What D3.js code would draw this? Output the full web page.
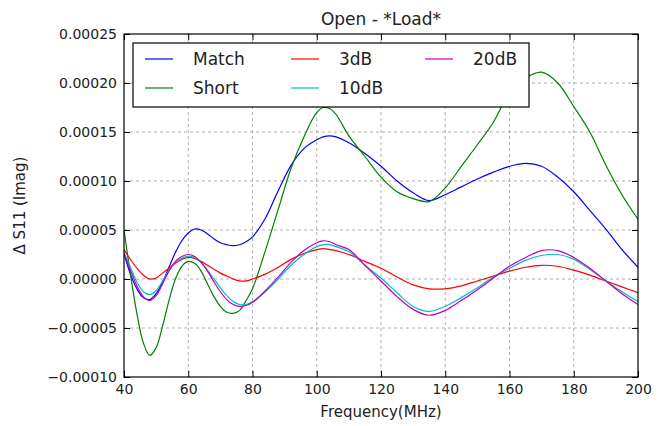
<!DOCTYPE html>
<html>
<head>
<meta charset="utf-8">
<script src="https://cdn.jsdelivr.net/npm/d3@7"></script>
<style>
  body { margin: 0; background: #fff; }
  svg { display: block; font-family: "DejaVu Sans", sans-serif; }
</style>
</head>
<body>
<svg id="chart"></svg>
<script>
// frequency points (MHz) shared by every series
const freq = [40, 42, 44, 46, 48, 50, 52, 54, 56, 58, 60, 62, 64, 66, 68, 70, 72, 74, 76, 78,
  80, 84, 88, 92, 96, 100, 102, 104, 106, 110, 115, 120, 125, 130, 135, 140, 145, 150, 155,
  160, 165, 170, 175, 180, 185, 190, 195, 200];

// values in units of 1e-5
const unit = 1e-5;
const match = [2.6, 0.5, -1.0, -1.9, -2.1, -1.5, -0.3, 1.2, 2.7, 3.9, 4.7, 5.1, 5.0, 4.6, 4.1, 3.7, 3.5, 3.4, 3.5, 3.8,
  4.3, 6.2, 9.0, 11.6, 13.3, 14.2, 14.5, 14.6, 14.5, 13.9, 12.8, 11.5, 10.0, 8.8, 8.0, 8.6, 9.4, 10.2, 10.9,
  11.5, 11.8, 11.5, 10.4, 8.9, 7.0, 5.1, 3.0, 1.2];
const short = [5.0, 0.5, -3.5, -6.5, -7.8, -7.0, -4.8, -2.2, 0.0, 1.3, 1.8, 1.6, 0.8, -0.5, -1.8, -2.8, -3.4, -3.5, -3.2, -2.2,
  -1.0, 2.9, 7.1, 11.3, 14.5, 17.0, 17.5, 17.4, 16.8, 14.6, 12.5, 10.4, 8.9, 8.2, 7.9, 9.3, 11.5, 13.7, 16.0,
  19.0, 20.5, 21.1, 20.0, 17.6, 15.0, 11.6, 8.6, 6.1];
const db3 = [3.0, 2.0, 1.1, 0.4, 0.0, 0.1, 0.6, 1.1, 1.6, 2.0, 2.2, 2.1, 1.8, 1.4, 1.0, 0.6, 0.3, 0.0, -0.2, -0.2,
  0.0, 0.5, 1.2, 2.0, 2.6, 3.0, 3.1, 3.0, 2.9, 2.5, 1.8, 1.1, 0.2, -0.6, -1.0, -1.0, -0.7, -0.2, 0.3,
  0.8, 1.2, 1.4, 1.3, 0.9, 0.4, -0.2, -0.8, -1.4];
const db10 = [2.7, 1.2, -0.3, -1.3, -1.6, -1.2, -0.2, 0.9, 1.7, 2.1, 2.3, 2.2, 1.7, 0.9, 0.0, -0.9, -1.7, -2.3, -2.6, -2.6,
  -2.3, -1.3, 0.0, 1.4, 2.5, 3.3, 3.5, 3.5, 3.3, 2.8, 1.4, 0.1, -1.4, -2.8, -3.3, -2.8, -1.9, -0.9, 0.2,
  1.1, 1.9, 2.4, 2.5, 2.0, 1.0, -0.2, -1.3, -2.3];
const db20 = [2.6, 0.9, -0.7, -1.8, -2.2, -1.7, -0.5, 0.8, 1.8, 2.3, 2.5, 2.3, 1.7, 0.8, -0.3, -1.3, -2.1, -2.6, -2.8, -2.7,
  -2.4, -1.2, 0.2, 1.7, 2.9, 3.7, 3.9, 3.8, 3.5, 3.0, 1.4, -0.2, -1.8, -3.1, -3.7, -3.2, -2.2, -1.1, 0.1,
  1.3, 2.2, 2.9, 2.9, 2.2, 1.1, -0.2, -1.5, -2.6];

const seriesNames = ['Match', 'Short', '3dB', '10dB', '20dB'];
const seriesValues = [match, short, db3, db10, db20];
const seriesColors = ['#0000ff', '#008000', '#ff0000', '#00bfbf', '#bf00bf'];

const xTicks = [40, 60, 80, 100, 120, 140, 160, 180, 200];
const yTicks = [-0.0001, -0.00005, 0, 0.00005, 0.0001, 0.00015, 0.0002, 0.00025];

const width = 661, height = 426;
const margin = { top: 34, right: 23, bottom: 49, left: 124 };
const innerW = width - margin.left - margin.right;
const innerH = height - margin.top - margin.bottom;

const svg = d3.select('#chart').attr('width', width).attr('height', height);

const x = d3.scaleLinear().domain([40, 200]).range([margin.left, margin.left + innerW]);
const y = d3.scaleLinear().domain([-0.0001, 0.00025]).range([margin.top + innerH, margin.top]);

svg.append('defs').append('clipPath').attr('id', 'clip')
  .append('rect')
  .attr('x', margin.left).attr('y', margin.top)
  .attr('width', innerW).attr('height', innerH);

// grid
const grid = svg.append('g').attr('stroke', '#9a9a9a').attr('stroke-width', 0.8).attr('stroke-dasharray', '3,3');
grid.selectAll('.gx').data(xTicks.slice(1, -1)).enter().append('line')
  .attr('x1', d => x(d)).attr('x2', d => x(d))
  .attr('y1', margin.top).attr('y2', margin.top + innerH);
grid.selectAll('.gy').data(yTicks.slice(1, -1)).enter().append('line')
  .attr('x1', margin.left).attr('x2', margin.left + innerW)
  .attr('y1', d => y(d)).attr('y2', d => y(d));

// lines
const line = d3.line()
  .x((d, i) => x(freq[i]))
  .y(d => y(d * unit))
  .curve(d3.curveCatmullRom.alpha(0.5));

const plot = svg.append('g').attr('clip-path', 'url(#clip)');
seriesValues.forEach((vals, k) => {
  plot.append('path')
    .datum(vals)
    .attr('d', line)
    .attr('fill', 'none')
    .attr('stroke', seriesColors[k])
    .attr('stroke-width', 1.2);
});

// axes with inward ticks
const fmtY = d3.format('.5f');
const xAxis = svg.append('g')
  .attr('transform', `translate(0,${margin.top + innerH})`)
  .call(d3.axisBottom(x).tickValues(xTicks).tickFormat(d3.format('d')).tickSize(-6).tickPadding(7));
const yAxis = svg.append('g')
  .attr('transform', `translate(${margin.left},0)`)
  .call(d3.axisLeft(y).tickValues(yTicks).tickFormat(fmtY).tickSize(-6).tickPadding(7));
svg.append('g')
  .attr('transform', `translate(0,${margin.top})`)
  .call(d3.axisTop(x).tickValues(xTicks).tickFormat('').tickSize(-6));
svg.append('g')
  .attr('transform', `translate(${margin.left + innerW},0)`)
  .call(d3.axisRight(y).tickValues(yTicks).tickFormat('').tickSize(-6));

svg.selectAll('.domain').remove();
svg.selectAll('.tick line').attr('stroke', '#000').attr('stroke-width', 1);
svg.selectAll('.tick text').attr('fill', '#222').style('font-size', '14px')
  .style('font-family', '"DejaVu Sans", sans-serif');

svg.append('rect')
  .attr('x', margin.left).attr('y', margin.top)
  .attr('width', innerW).attr('height', innerH)
  .attr('fill', 'none').attr('stroke', '#000').attr('stroke-width', 1.2);

// labels
svg.append('text')
  .attr('x', margin.left + innerW / 2).attr('y', 25)
  .attr('text-anchor', 'middle').style('font-size', '17px').attr('fill', '#222')
  .text('Open - *Load*');
svg.append('text')
  .attr('x', margin.left + innerW / 2).attr('y', 417)
  .attr('text-anchor', 'middle').style('font-size', '15px').attr('fill', '#222')
  .text('Frequency(MHz)');
svg.append('text')
  .attr('transform', `translate(25,${margin.top + innerH / 2}) rotate(-90)`)
  .attr('text-anchor', 'middle').style('font-size', '15px').attr('fill', '#222')
  .text('Δ S11 (Imag)');

// legend, filled column by column (3 columns)
const legend = svg.append('g');
legend.append('rect')
  .attr('x', 133).attr('y', 43).attr('width', 396).attr('height', 64)
  .attr('fill', '#fff').attr('stroke', '#000').attr('stroke-width', 1.2);
const colX = [145, 291, 425];
const rowY = [59, 88];
seriesNames.forEach((name, k) => {
  const cx = colX[Math.floor(k / 2)];
  const cy = rowY[k % 2];
  legend.append('line')
    .attr('x1', cx).attr('x2', cx + 28).attr('y1', cy).attr('y2', cy)
    .attr('stroke', seriesColors[k]).attr('stroke-width', 1.2);
  legend.append('text')
    .attr('x', cx + 48).attr('y', cy).attr('dy', '0.35em')
    .style('font-size', '17px').attr('fill', '#222')
    .text(name);
});
</script>
</body>
</html>
